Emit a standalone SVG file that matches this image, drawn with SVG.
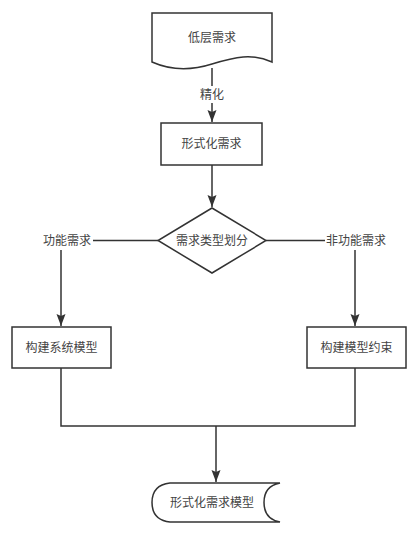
<svg xmlns="http://www.w3.org/2000/svg" width="419" height="538" viewBox="0 0 419 538">
<style>
.s{fill:#fff;stroke:#333;stroke-width:1.5}
.l{fill:none;stroke:#333;stroke-width:1.5}
.t{font-family:"Liberation Sans","Noto Sans CJK SC",sans-serif;font-size:12px;fill:#444;text-anchor:middle;dominant-baseline:central}
</style>
<defs>
<marker id="a" viewBox="0 0 12 9" refX="12" refY="4.5" markerWidth="12" markerHeight="9" markerUnits="userSpaceOnUse" orient="auto" overflow="visible">
<path d="M0,0 L12,4.5 L0,9 L2,4.5 Z" fill="#333"/>
</marker>
</defs>
<rect width="419" height="538" fill="#fff"/>
<g id="connectors">
<path class="l" d="M212,68 V122" marker-end="url(#a)"/>
<rect x="198" y="86" width="28" height="17" fill="#fff"/>
<text class="t" x="212" y="95">精化</text>
<path class="l" d="M212,165 V207" marker-end="url(#a)"/>
<path class="l" d="M158,240.5 H93"/>
<text class="t" x="67" y="241">功能需求</text>
<path class="l" d="M61,250 V326" marker-end="url(#a)"/>
<path class="l" d="M266,240.5 H325"/>
<text class="t" x="356" y="241">非功能需求</text>
<path class="l" d="M355,250 V326" marker-end="url(#a)"/>
<path class="l" d="M61,368 V426 H355 V368"/>
<path class="l" d="M216,426 V482" marker-end="url(#a)"/>
</g>
<g id="n1">
<path class="s" d="M152,13 H272 V62 C252,53 235,57 212,64 C190,71 170,70 152,62 Z"/>
<text class="t" x="212" y="38">低层需求</text>
</g>
<g id="n2">
<rect class="s" x="161" y="123" width="101" height="42"/>
<text class="t" x="211.5" y="144">形式化需求</text>
</g>
<g id="n3">
<path class="s" d="M212,208 L266,240.5 L212,273 L158,240.5 Z"/>
<text class="t" x="212" y="241">需求类型划分</text>
</g>
<g id="n4">
<rect class="s" x="12" y="327" width="99" height="41"/>
<text class="t" x="61.5" y="347.5">构建系统模型</text>
</g>
<g id="n5">
<rect class="s" x="307" y="327" width="99" height="41"/>
<text class="t" x="356.5" y="347.5">构建模型约束</text>
</g>
<g id="n6">
<path class="s" d="M170,483 H280 Q264,486 264,502.5 Q264,519 280,522 H170 Q152,520 152,502.5 Q152,485 170,483 Z"/>
<text class="t" x="212" y="503">形式化需求模型</text>
</g>
</svg>
